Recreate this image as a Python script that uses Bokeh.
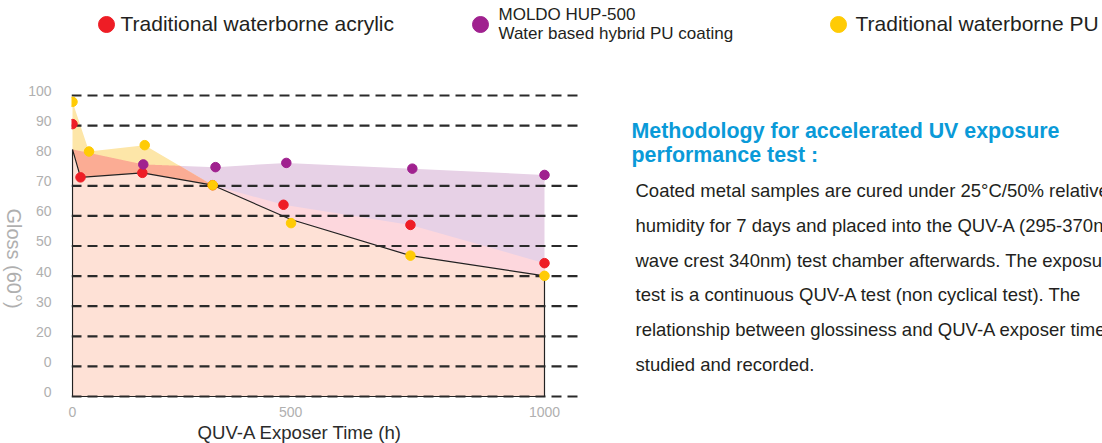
import numpy as np
from bokeh.plotting import figure
from bokeh.layouts import row
from bokeh.models import Range1d, FixedTicker, Title
from bokeh.core.properties import value
from bokeh.embed import file_html
from bokeh.resources import INLINE

# ---------------- data ----------------
acrylic_x = [0, 17, 148, 297, 447, 716, 1000]
acrylic_y = [90.5, 72.8, 74.3, 70.2, 63.7, 57.0, 44.3]

pu_x = [0, 35, 153, 297, 463, 716, 1000]
pu_y = [97.9, 81.4, 83.5, 70.2, 57.6, 46.8, 40.1]

hup_x = [150, 303, 453, 720, 1000]
hup_y = [77.1, 76.2, 77.6, 75.7, 73.6]

# outline of the lower (common) area
base_x = [0, 17, 148, 297, 463, 716, 1000]
base_y = [82.1, 72.8, 74.3, 70.2, 58.8, 46.8, 40.1]

grid_vals = [0, 10, 20, 30, 40, 50, 60, 70, 90, 100]
ytick_vals = [100, 90, 80, 70, 60, 50, 40, 30, 20, 10, 0]
ytick_labels = ["100", "90", "80", "70", "60", "50", "40", "30", "20", "0", "0"]
xtick_vals = [0, 462, 1000]
xtick_labels = ["0", "500", "1000"]

legend_labels = ["Traditional waterborne acrylic",
                 "MOLDO HUP-500\nWater based hybrid PU coating",
                 "Traditional waterborne PU"]

heading_lines = ["Methodology for accelerated UV exposure", "performance test :"]
body_lines = [
    "Coated metal samples are cured under 25\u00b0C/50% relative",
    "humidity for 7 days and placed into the QUV-A (295-370nm,",
    "wave crest 340nm) test chamber afterwards. The exposure",
    "test is a continuous QUV-A test (non cyclical test). The",
    "relationship between glossiness and QUV-A exposer time is",
    "studied and recorded.",
]

RED = "#EE1D25"
PURPLE = "#A0218F"
YELLOW = "#FFCB05"
COLORS = [RED, PURPLE, YELLOW]
FONT = "Liberation Sans"
W, H = 1102, 443
YT_W = 24
MW = W - YT_W

# page-pixel geometry of the chart (x: 0 -> 72px, 1000 -> 544px; y: 0 -> 396px, 100 -> 95px)
KX = 0.472
KY = 3.01
FRAME_L, FRAME_B = 71, 400


def dx(px):
    return (px - 72) / KX


def dy(py):
    return (396 - py) / KY


y_range = Range1d(dy(FRAME_B), dy(0))

# ---------------- y title strip (frame aligned with the main frame) ----------------
ytf = figure(width=YT_W, height=H, output_backend="svg", toolbar_location=None,
             x_range=Range1d(0, YT_W), y_range=y_range, min_border=0,
             min_border_left=0, min_border_right=0, min_border_top=0,
             min_border_bottom=H - FRAME_B,
             x_axis_location=None, y_axis_location=None, outline_line_color=None,
             background_fill_color="white", border_fill_color="white")
ytf.grid.visible = False
ytf.text(x=[13.5], y=[dy(258)], text=["Gloss (60\u00b0)"], angle=-np.pi / 2,
         text_font=value(FONT), text_font_size="20px", text_color="#AFAFAF",
         text_align="center", text_baseline="middle")

# ---------------- main figure ----------------
p = figure(width=MW, height=H, output_backend="svg", toolbar_location=None,
           x_range=Range1d(dx(FRAME_L), dx(W)), y_range=y_range,
           min_border_left=FRAME_L - YT_W, min_border_right=0,
           min_border_top=0, min_border_bottom=H - FRAME_B,
           background_fill_color="white", border_fill_color="white", outline_line_color=None)
p.grid.visible = False

# fills
pfx = [0] + hup_x
pfy = [base_y[0]] + hup_y
p.varea(x=pfx, y1=0, y2=pfy, fill_color="#E7D1E6", level="image")
p.varea(x=pu_x, y1=0, y2=pu_y, fill_color="#FDE6A8", level="image")
xs = np.linspace(0, 297, 400)
top = np.minimum(np.interp(xs, pu_x, pu_y), np.interp(xs, pfx, pfy))
p.varea(x=xs, y1=0, y2=top, fill_color="#FBAC94", level="image")
p.varea(x=acrylic_x[3:], y1=0, y2=acrylic_y[3:], fill_color="#FDD7DD", level="image")
p.patch(x=[0] + base_x + [1000], y=[0] + base_y + [0], fill_color="#FEE1D6",
        line_color="#222222", line_width=1.2, level="image")

# dashed guide lines
n = len(grid_vals)
p.segment(x0=[dx(FRAME_L)] * n, x1=[dx(577)] * n, y0=grid_vals, y1=grid_vals,
          line_color="#2a2a2a", line_width=2.2, line_dash="10 6", level="underlay")

# points
p.scatter(acrylic_x, acrylic_y, size=9.5, color=RED)
p.scatter(hup_x, hup_y, size=9.5, color=PURPLE)
p.scatter(pu_x, pu_y, size=9.5, color=YELLOW)

# axes
yt = [v + 1.5 for v in ytick_vals]
p.yaxis.ticker = FixedTicker(ticks=yt)
p.yaxis.major_label_overrides = {t: s for t, s in zip(yt, ytick_labels)}
p.xaxis.ticker = FixedTicker(ticks=xtick_vals)
p.xaxis.major_label_overrides = {t: s for t, s in zip(xtick_vals, xtick_labels)}
for ax in (p.xaxis[0], p.yaxis[0]):
    ax.axis_line_color = None
    ax.major_tick_line_color = None
    ax.minor_tick_line_color = None
    ax.major_tick_out = 0
    ax.major_label_text_font = FONT
    ax.major_label_text_font_size = "14px"
    ax.major_label_text_color = "#B0B0B0"
p.yaxis.major_label_standoff = 20
p.xaxis.major_label_standoff = 6

p.add_layout(Title(text="QUV-A Exposer Time (h)", align="left", offset=197 - FRAME_L,
                   text_font=FONT, text_font_size="18.6px", text_font_style="normal",
                   text_color="#2b2b2b", standoff=0), "below")

# legend (dots + labels across the top)
dot_px = [106, 480, 838]
text_px = [120, 498, 855]
p.scatter([dx(v) for v in dot_px], [dy(24)] * 3, size=16, color=COLORS)
for i, lbl in enumerate(legend_labels):
    lines = lbl.split("\n")
    if len(lines) == 1:
        p.text(x=[dx(text_px[i])], y=[dy(23)], text=lines, text_font=value(FONT),
               text_font_size="21px", text_color="#231F20",
               text_align="left", text_baseline="middle")
    else:
        p.text(x=[dx(text_px[i])] * 2, y=[dy(14), dy(33)], text=lines, text_font=value(FONT),
               text_font_size="17px", text_color="#231F20",
               text_align="left", text_baseline="middle")

# methodology text
p.text(x=[dx(631)] * len(heading_lines), y=[dy(130 + 24 * i) for i in range(len(heading_lines))],
       text=heading_lines, text_font=value(FONT), text_font_size="21.4px",
       text_font_style="bold", text_color="#0A9AD8", text_align="left", text_baseline="middle")
p.text(x=[dx(635)] * len(body_lines), y=[dy(190 + 34.8 * i) for i in range(len(body_lines))],
       text=body_lines, text_font=value(FONT), text_font_size="18.5px",
       text_color="#231F20", text_align="left", text_baseline="middle")

layout = row(ytf, p, spacing=0)
open("out.html", "w").write(file_html(layout, INLINE))
